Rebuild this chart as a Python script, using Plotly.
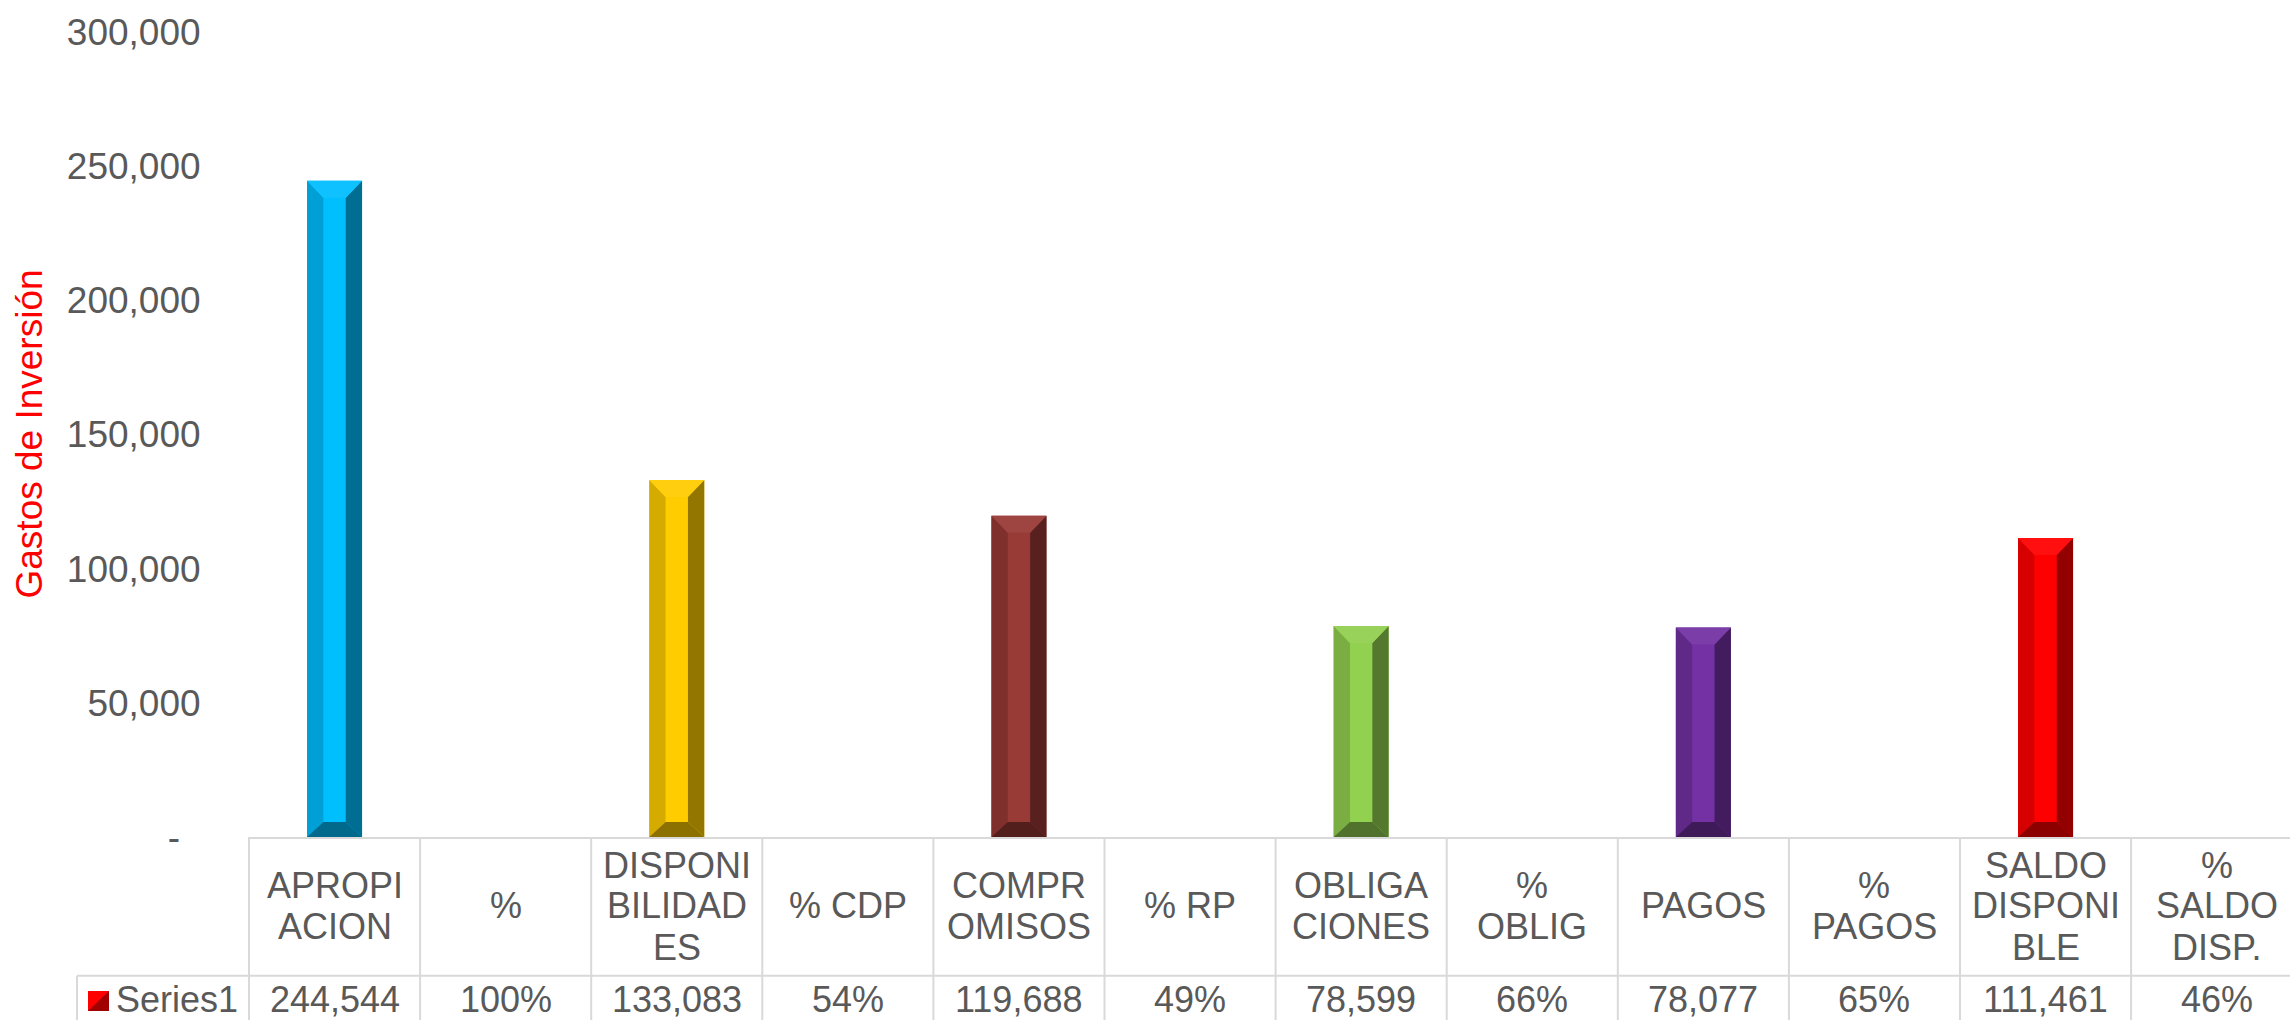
import plotly.graph_objects as go

# ---------------- data ----------------
categories = ["APROPI<br>ACION", "%", "DISPONI<br>BILIDAD<br>ES", "% CDP",
              "COMPR<br>OMISOS", "% RP", "OBLIGA<br>CIONES", "%<br>OBLIG",
              "PAGOS", "%<br>PAGOS", "SALDO<br>DISPONI<br>BLE", "%<br>SALDO<br>DISP."]
values = [244544, 1.00, 133083, 0.54, 119688, 0.49, 78599, 0.66, 78077, 0.65, 111461, 0.46]
bar_colors = ["#00BFFF", "#00BFFF", "#FFCC00", "#FFCC00", "#983A36", "#983A36",
              "#92D050", "#92D050", "#7331A3", "#7331A3", "#FF0000", "#FF0000"]
series_name = "Series1"
y_tickvals = [0, 50000, 100000, 150000, 200000, 250000, 300000]
y_ticktext = ["-\u00a0\u00a0", "50,000", "100,000", "150,000", "200,000", "250,000", "300,000"]
y_title = "Gastos de Inversión"

# ---------------- geometry (layout) ----------------
W, H = 2290, 1020
L, T, R = 249, 32, 0
AXIS_PX = 837          # pixel row of y = 0
B = H - AXIS_PX
COL_W = 171.1          # pixel width of one category
YMAX = 300000
PLOT_H = H - T - B
PLOT_W = W - L - R
X_RANGE = [-0.5, -0.5 + PLOT_W / COL_W]
GRID = "#D9D9D9"
TXT = "#595959"
FONT = "Liberation Sans, Arial, sans-serif"
LINE_PX = 41


def py2paper(py):
    return (AXIS_PX - py) / PLOT_H


def px2paper(px):
    return (px - L) / PLOT_W


def shade(hexc, f):
    h = hexc.lstrip("#")
    r, g, b = int(h[0:2], 16), int(h[2:4], 16), int(h[4:6], 16)
    if f <= 1:
        r, g, b = r * f, g * f, b * f
    else:
        k = f - 1
        r, g, b = r + (255 - r) * k, g + (255 - g) * k, b + (255 - b) * k
    return "#%02X%02X%02X" % (int(r), int(g), int(b))


BAR_W = 55 / COL_W
SIDE = 16.3 / COL_W
TOPB = 17 * YMAX / PLOT_H
BOTB = 15 * YMAX / PLOT_H

xs = list(range(len(categories)))

fig = go.Figure()
fig.add_trace(go.Bar(x=xs, y=values, width=BAR_W, marker=dict(color=bar_colors, line=dict(width=0)),
                     name=series_name, hoverinfo="y"))

# bevel faces
for i, (v, c) in enumerate(zip(values, bar_colors)):
    if v < TOPB + BOTB:
        continue
    x0, x1 = i - BAR_W / 2, i + BAR_W / 2
    faces = [
        ([x0, x0, x0 + SIDE, x0 + SIDE, x0], [0, v, v - TOPB, BOTB, 0], shade(c, 0.84)),
        ([x1, x1, x1 - SIDE, x1 - SIDE, x1], [0, v, v - TOPB, BOTB, 0], shade(c, 0.58)),
        ([x0, x1, x1 - SIDE, x0 + SIDE, x0], [v, v, v - TOPB, v - TOPB, v], shade(c, 1.06)),
        ([x0, x1, x1 - SIDE, x0 + SIDE, x0], [0, 0, BOTB, BOTB, 0], shade(c, 0.55)),
    ]
    for fx, fy, fc in faces:
        fig.add_trace(go.Scatter(x=fx, y=fy, mode="lines", fill="toself", fillcolor=fc,
                                 line=dict(width=0, color=fc), hoverinfo="skip", showlegend=False))

# ---------------- data table ----------------
shapes = []
ROW_PX = 975.7
shapes.append(dict(type="line", xref="paper", yref="paper", x0=px2paper(77), x1=1.0,
                   y0=py2paper(ROW_PX), y1=py2paper(ROW_PX), line=dict(color=GRID, width=2)))
for k in range(len(categories) + 1):
    xp = (k - 0.5 - X_RANGE[0]) / (X_RANGE[1] - X_RANGE[0])
    if xp > 1.0:
        continue
    shapes.append(dict(type="line", xref="paper", yref="paper", x0=xp, x1=xp,
                       y0=py2paper(AXIS_PX), y1=py2paper(H + 5), line=dict(color=GRID, width=2)))
shapes.append(dict(type="line", xref="paper", yref="paper", x0=px2paper(77), x1=px2paper(77),
                   y0=py2paper(ROW_PX), y1=py2paper(H + 5), line=dict(color=GRID, width=2)))
# legend key (bevelled red square)
kx0, kx1, ky0, ky1 = px2paper(88), px2paper(109), py2paper(991), py2paper(1011)
shapes.append(dict(type="rect", xref="paper", yref="paper", x0=kx0, x1=kx1, y0=ky1, y1=ky0,
                   fillcolor="#A00000", line=dict(width=0)))
shapes.append(dict(type="path", xref="paper", yref="paper",
                   path=f"M {kx0},{ky0} L {kx1},{ky0} L {kx0},{ky1} Z",
                   fillcolor="#FF0000", line=dict(width=0)))

annotations = []
HEAD_MID = 906
for i, (cat, v) in enumerate(zip(categories, values)):
    lines = cat.split("<br>")
    n = len(lines)
    for j, ln in enumerate(lines):
        py = HEAD_MID + (j - (n - 1) / 2) * LINE_PX
        annotations.append(dict(x=i, y=py2paper(py), xref="x", yref="paper", text=ln, showarrow=False,
                                xanchor="center", yanchor="middle", align="center",
                                font=dict(family=FONT, size=36, color=TXT)))
    label = f"{v:.0%}" if cat.startswith("%") else f"{v:,.0f}"
    annotations.append(dict(x=i, y=py2paper(999), xref="x", yref="paper", text=label, showarrow=False,
                            xanchor="center", yanchor="middle",
                            font=dict(family=FONT, size=36, color=TXT)))
annotations.append(dict(x=px2paper(114), y=py2paper(999), xref="paper", yref="paper", text=series_name,
                        showarrow=False, xanchor="left", yanchor="middle",
                        font=dict(family=FONT, size=36, color=TXT)))
annotations.append(dict(x=px2paper(29), y=0.5, xref="paper", yref="paper", text=y_title, textangle=-90,
                        showarrow=False, xanchor="center", yanchor="middle",
                        font=dict(family=FONT, size=37, color="#FF0000")))

fig.update_layout(
    width=W, height=H,
    margin=dict(l=L, r=R, t=T, b=B, pad=0),
    paper_bgcolor="white", plot_bgcolor="white",
    showlegend=False, barmode="overlay",
    xaxis=dict(range=X_RANGE, showticklabels=False, showgrid=False, zeroline=False,
               showline=True, linecolor=GRID, linewidth=2, fixedrange=True),
    yaxis=dict(range=[0, YMAX], tickvals=y_tickvals, ticktext=y_ticktext, showgrid=False,
               zeroline=False, showline=False, ticks="outside", ticklen=40,
               tickcolor="rgba(0,0,0,0)", tickfont=dict(family=FONT, size=37, color=TXT)),
    shapes=shapes, annotations=annotations,
)

fig.write_html("out.html", config={"displayModeBar": False},
               post_script="document.body.style.margin='0';document.body.style.overflow='hidden';")
